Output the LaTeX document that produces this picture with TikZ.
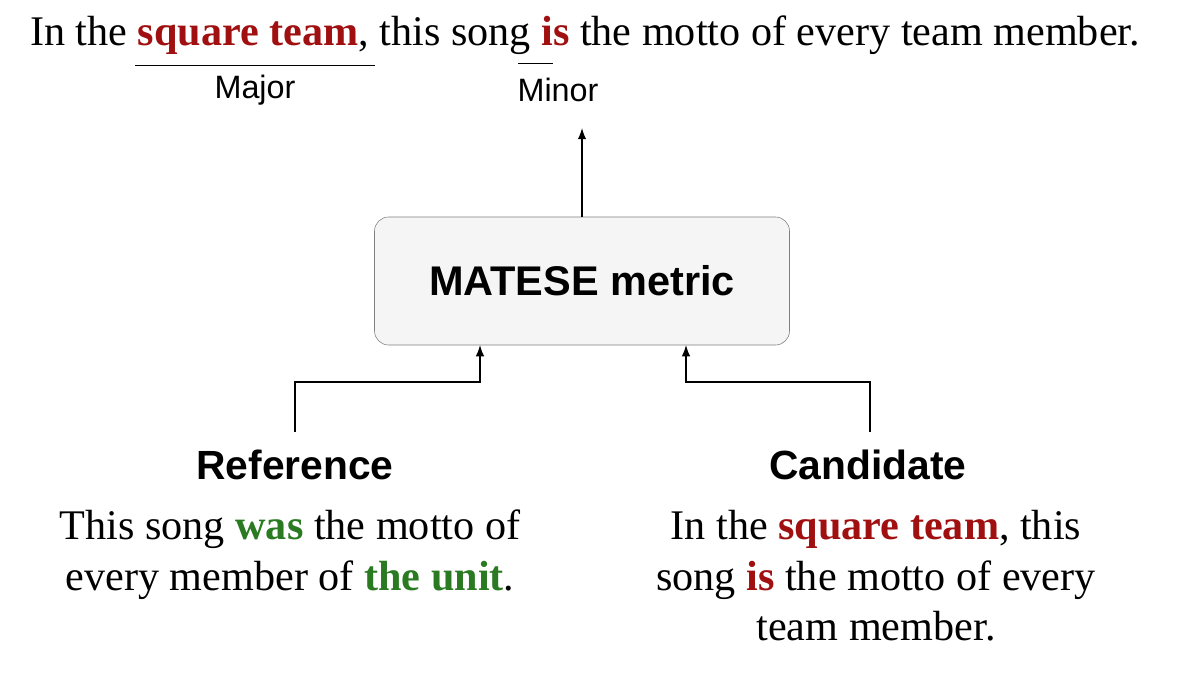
\documentclass[tikz,border=0pt]{standalone}
\usepackage{fontspec}
\setmainfont{Liberation Serif}
\setsansfont{Liberation Sans}
\usetikzlibrary{positioning,arrows.meta}
\definecolor{errred}{HTML}{A01010}
\definecolor{okgreen}{HTML}{2A7A22}
\definecolor{boxfill}{HTML}{F5F5F5}
\definecolor{boxline}{HTML}{7F7F7F}
\newcommand{\err}[1]{\textbf{\color{errred}#1}}
\newcommand{\ok}[1]{\textbf{\color{okgreen}#1}}
\begin{document}
\begin{tikzpicture}[x=0.025cm,y=-0.025cm,
    sent/.style={font=\fontsize{30}{36}\selectfont, inner sep=0pt},
    tag/.style={font=\sffamily\fontsize{23}{28}\selectfont, inner sep=0pt},
    head/.style={font=\sffamily\bfseries\fontsize{29}{34}\selectfont, inner sep=0pt},
    metric/.style={draw=boxline, fill=boxfill, rounded corners=10pt, minimum width=415*0.025cm, minimum height=128*0.025cm, font=\sffamily\bfseries\fontsize{29.5}{34}\selectfont},
    arr/.style={-{Latex[length=8pt,width=6pt]}, line width=0.9pt},
  ]
  \useasboundingbox (0,0) rectangle (1200,675);

  % output sentence
  \node[sent] (out) at (585,35) {In the \err{square team}, this song \err{is} the motto of every team member.};
  \coordinate (majA) at (135,65); \coordinate (majB) at (375,65);
  \coordinate (minA) at (518,63); \coordinate (minB) at (553,63);
  \draw (majA) -- (majB);
  \draw (minA) -- (minB);
  \node[tag] (major) at (255,90) {Major};
  \node[tag] (minor) at (558,90) {Minor};

  % metric box
  \node[metric] (box) at (582,281) {MATESE metric};
  \coordinate (top) at (582,128);
  \draw[arr] (box.north) -- (top);

  % inputs
  \node[head] (ref) at (295,465) {Reference};
  \node[head] (cand) at (868,465) {Candidate};
  \node[sent, align=center, anchor=north] (reftext) at (290,510) {This song \ok{was} the motto of\\every member of \ok{the unit}.};
  \node[sent, align=center, anchor=north] (candtext) at (876,510) {In the \err{square team}, this\\song \err{is} the motto of every\\team member.};

  \coordinate (refout) at (295,432);
  \coordinate (candout) at (870,432);
  \draw[arr] (refout) |- (480,382) -- (480,345);
  \draw[arr] (candout) |- (686,382) -- (686,345);
\end{tikzpicture}
\end{document}
